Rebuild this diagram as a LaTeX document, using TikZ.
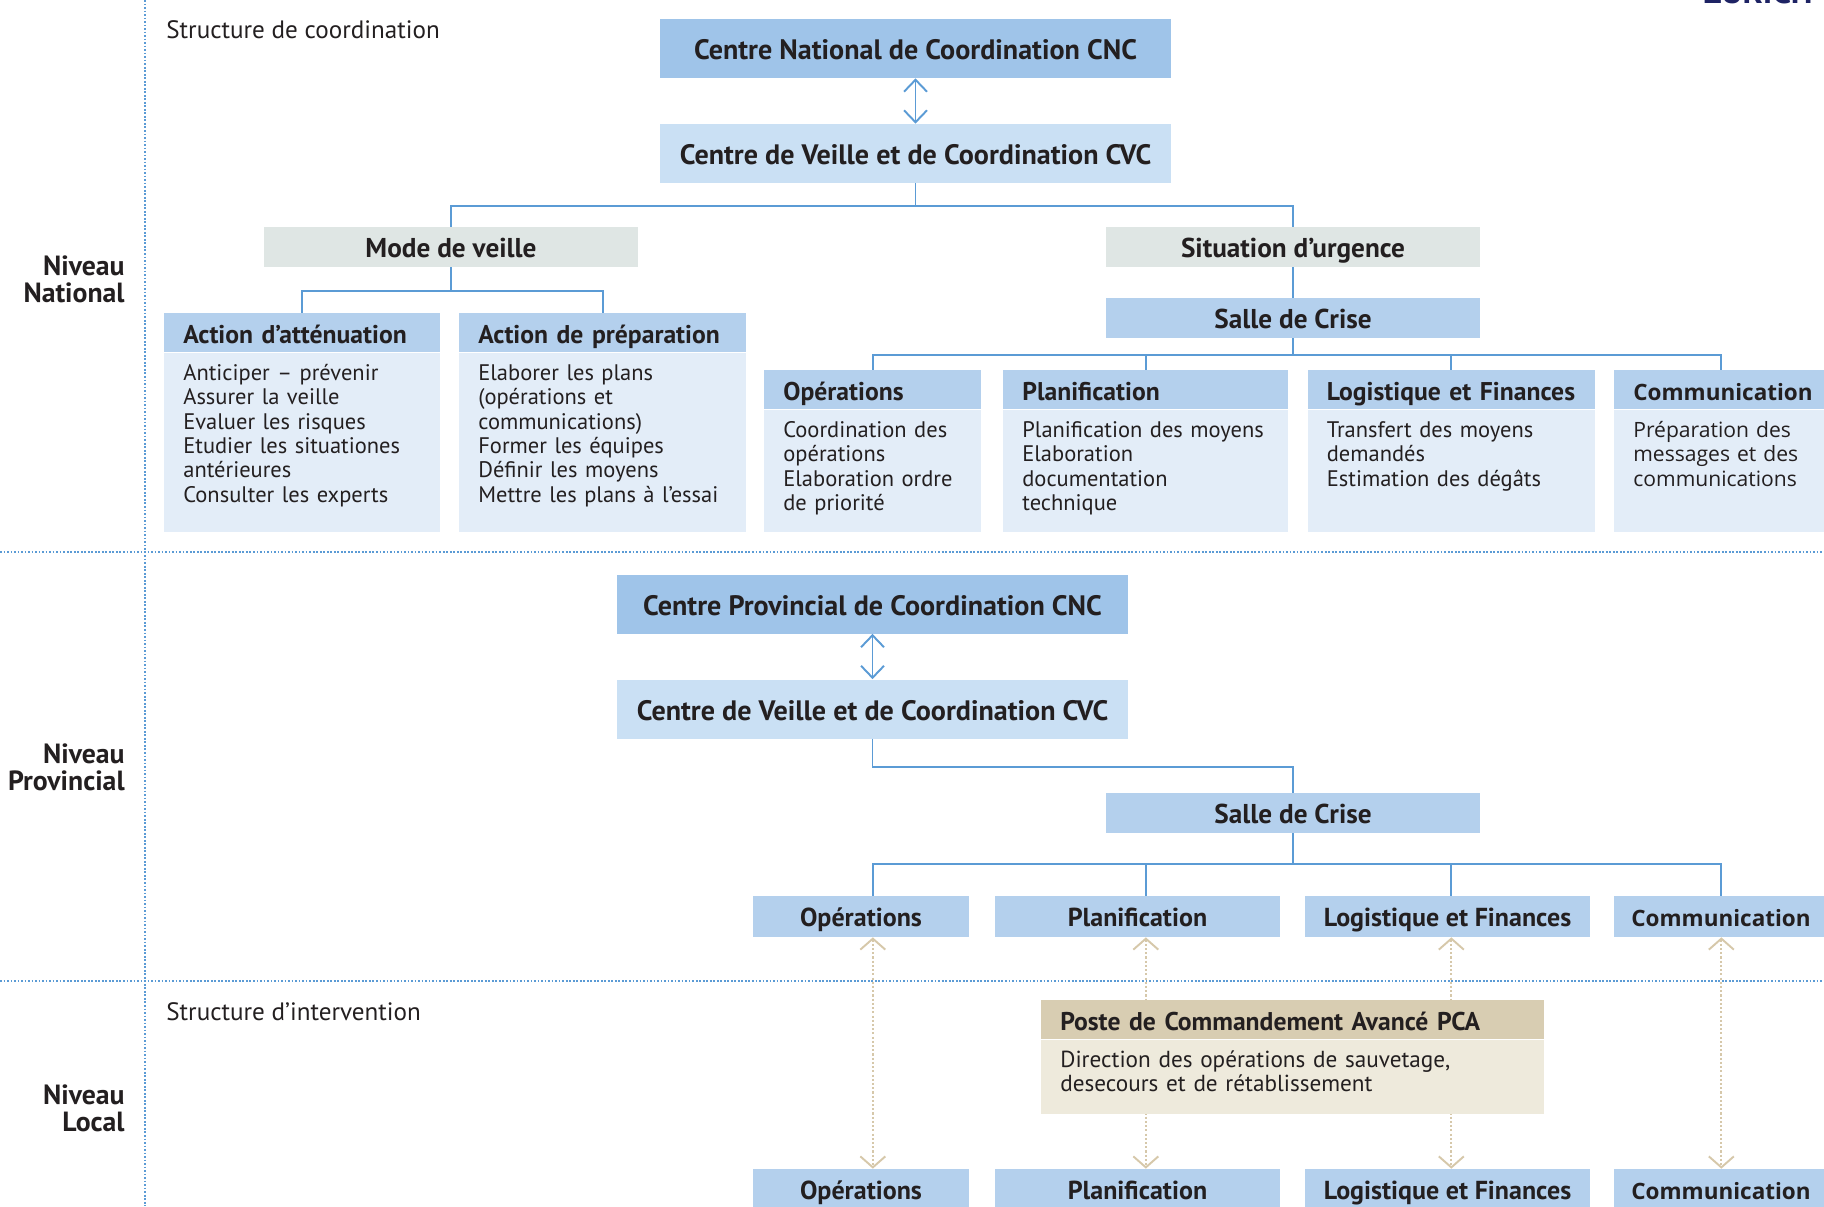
\documentclass[tikz,border=0pt]{standalone}
\usepackage{fontspec}
\setmainfont{PT Sans}
\newfontfamily\comfont{Open Sans}
\usetikzlibrary{positioning,arrows.meta}

\definecolor{cncblue}{RGB}{159,196,233}
\definecolor{cvcblue}{RGB}{202,224,244}
\definecolor{midblue}{RGB}{180,208,237}
\definecolor{paleblue}{RGB}{227,237,248}
\definecolor{greybox}{RGB}{223,230,228}
\definecolor{linkblue}{RGB}{91,155,213}
\definecolor{pcahead}{RGB}{216,205,178}
\definecolor{pcabody}{RGB}{238,234,220}
\definecolor{tanline}{RGB}{214,200,170}
\definecolor{inkdark}{RGB}{35,31,32}
\definecolor{zurichnavy}{RGB}{30,35,100}

\begin{document}
\begin{tikzpicture}[x=0.02cm, y=-0.02cm,
  every node/.style={text=inkdark, inner sep=0pt},
  centrebox/.style={minimum width=10.22cm, minimum height=1.18cm, text height=0.56cm, text depth=0.12cm, font=\bfseries\fontsize{16}{19}\selectfont},
  modebox/.style={fill=greybox, minimum width=7.5cm, minimum height=0.8cm, text height=0.54cm, text depth=0.12cm, font=\bfseries\fontsize{15.5}{18}\selectfont},
  sallebox/.style={fill=midblue, minimum width=7.5cm, minimum height=0.8cm, text height=0.54cm, text depth=0.12cm, font=\bfseries\fontsize{15.5}{18}\selectfont},
  headbox/.style={fill=midblue, anchor=north west, minimum height=0.78cm, inner xsep=0.38cm, text width=#1, text height=0.52cm, text depth=0.11cm, align=left, font=\bfseries\fontsize{14.6}{17}\selectfont},
  bodybox/.style={fill=paleblue, inner xsep=0.38cm, inner ysep=0.2cm, text height=0.345cm, text depth=#1, align=left, font=\fontsize{12.8}{13.9}\selectfont},
  rowbox/.style={fill=midblue, minimum height=0.82cm, minimum width=#1, text height=0.52cm, text depth=0.11cm, font=\bfseries\fontsize{14.8}{17}\selectfont},
  link/.style={draw=linkblue, line width=1.1pt},
  duplex/.style={linkblue, line width=1.1pt, {Straight Barb[length=0.24cm,width=0.46cm]}-{Straight Barb[length=0.24cm,width=0.46cm]}},
  relay/.style={tanline, line width=1.1pt, dash pattern=on 1.2pt off 1.2pt, {Straight Barb[length=0.22cm,width=0.5cm]}-{Straight Barb[length=0.22cm,width=0.5cm]}},
  levelrule/.style={linkblue, line width=0.6pt, dash pattern=on 1pt off 1pt}]

\useasboundingbox (0,0) rectangle (1824,1206);
\clip (0,0) rectangle (1824,1206);

% levels
\draw[levelrule] (145,0) -- (145,1206);
\draw[levelrule] (0,552) -- (1824,552);
\draw[levelrule] (0,981) -- (1824,981);
\node[font=\bfseries\fontsize{19}{19}\selectfont, text=zurichnavy, anchor=base east] (logo) at (1813,4) {ZURICH};
\node[anchor=east, align=right, font=\bfseries\fontsize{15.8}{15.3}\selectfont] (natlabel) at (125,279) {Niveau\\National};
\node[anchor=east, align=right, font=\bfseries\fontsize{15.8}{15.3}\selectfont] (provlabel) at (125,767) {Niveau\\Provincial};
\node[anchor=east, align=right, font=\bfseries\fontsize{15.8}{15.3}\selectfont] (loclabel) at (125,1108) {Niveau\\Local};
\node[anchor=west, font=\fontsize{14.3}{17}\selectfont] (coordlabel) at (166,30) {Structure de coordination};
\node[anchor=west, font=\fontsize{14.3}{17}\selectfont] (intlabel) at (166,1012) {Structure d’intervention};

% national
\node[centrebox, fill=cncblue] (cncN) at (915.5,48.5) {Centre National de Coordination CNC};
\node[centrebox, fill=cvcblue] (cvcN) at (915.5,153.5) {Centre de Veille et de Coordination CVC};
\draw[duplex] (cncN) -- (cvcN);
\node[modebox] (veille) at (451,247) {Mode de veille};
\node[modebox] (urgence) at (1293,247) {Situation d’urgence};
\node[sallebox] (salleN) at (1293,318) {Salle de Crise};

\node[headbox=4.76cm] (attH) at (164,313) {Action d’atténuation};
\node[bodybox=2.835cm, text width=4.76cm, below=0pt of attH.south west, anchor=north west] (attB)
  {Anticiper – prévenir\\Assurer la veille\\Evaluer les risques\\Etudier les situationes\\antérieures\\Consulter les experts};
\node[headbox=4.98cm] (prepH) at (459,313) {Action de préparation};
\node[bodybox=2.835cm, text width=4.98cm, below=0pt of prepH.south west, anchor=north west] (prepB)
  {Elaborer les plans\\(opérations et\\communications)\\Former les équipes\\Définir les moyens\\Mettre les plans à l’essai};

\node[headbox=3.58cm] (opsH) at (764,370) {Opérations};
\node[bodybox=1.695cm, text width=3.58cm, below=0pt of opsH.south west, anchor=north west] (opsB)
  {Coordination des\\opérations\\Elaboration ordre\\de priorité};
\node[headbox=4.94cm] (planH) at (1003,370) {Planification};
\node[bodybox=1.695cm, text width=4.94cm, below=0pt of planH.south west, anchor=north west] (planB)
  {Planification des moyens\\Elaboration\\documentation\\technique};
\node[headbox=4.98cm] (logH) at (1307.5,370) {\mbox{Logistique et Finances}};
\node[bodybox=1.695cm, text width=4.98cm, below=0pt of logH.south west, anchor=north west] (logB)
  {Transfert des moyens\\demandés\\Estimation des dégâts};
\node[headbox=3.52cm, font=\comfont\bfseries\fontsize{12.8}{15}\selectfont] (comH) at (1614,370) {Communication};
\node[bodybox=1.695cm, text width=3.52cm, below=0pt of comH.south west, anchor=north west, font=\comfont\fontsize{12}{13.9}\selectfont] (comB)
  {Préparation des\\messages et des\\communications};

\draw[link] (cvcN.south) -- ++(0,23) -| (veille.north);
\draw[link] (cvcN.south) -- ++(0,23) -| (urgence.north);
\draw[link] (urgence) -- (salleN);
\draw[link] (veille.south) -- ++(0,24) -| (attH.north);
\draw[link] (veille.south) -- ++(0,24) -| (prepH.north);
\foreach \col in {opsH,planH,logH,comH}
  \draw[link] (salleN.south) -- ++(0,17) -| (\col.north);

% provincial
\node[centrebox, fill=cncblue] (cncP) at (872.5,604) {Centre Provincial de Coordination CNC};
\node[centrebox, fill=cvcblue] (cvcP) at (872.5,709) {Centre de Veille et de Coordination CVC};
\draw[duplex] (cncP) -- (cvcP);
\node[sallebox] (salleP) at (1293,813) {Salle de Crise};
\draw[link] (cvcP.south) -- ++(0,28) -| (salleP.north);

\node[rowbox=4.32cm] (opsP) at (861,916.5) {Opérations};
\node[rowbox=5.7cm] (planP) at (1137.5,916.5) {Planification};
\node[rowbox=5.7cm] (logP) at (1447.5,916.5) {Logistique et Finances};
\node[rowbox=4.28cm, font=\comfont\bfseries\fontsize{12.8}{15}\selectfont] (comP) at (1721,916.5) {Communication};

\draw[link] (salleP.south) -- ++(0,31) coordinate (busP);
\foreach \col/\top in {opsP/opsH,planP/planH,logP/logH,comP/comH}
  \draw[link] (busP) -| (\col.north -| \top.north);

% local
\node[rowbox=4.32cm] (opsL) at (861,1189.5) {Opérations};
\node[rowbox=5.7cm] (planL) at (1137.5,1189.5) {Planification};
\node[rowbox=5.7cm] (logL) at (1447.5,1189.5) {Logistique et Finances};
\node[rowbox=4.28cm, font=\comfont\bfseries\fontsize{12.8}{15}\selectfont] (comL) at (1721,1189.5) {Communication};

\foreach \up/\down/\top in {opsP/opsL/opsH,planP/planL/planH,logP/logL/logH,comP/comL/comH}
  \draw[relay] (\up.south -| \top.north) -- (\down.north -| \top.north);

\node[headbox=9.3cm, fill=pcahead] (pcaH) at (1041,1000) {Poste de Commandement Avancé PCA};
\node[bodybox=0.735cm, fill=pcabody, text width=9.3cm, below=0pt of pcaH.south west, anchor=north west, font=\fontsize{13.2}{13.9}\selectfont] (pcaB)
  {Direction des opérations de sauvetage,\\desecours et de rétablissement};
\end{tikzpicture}
\end{document}
